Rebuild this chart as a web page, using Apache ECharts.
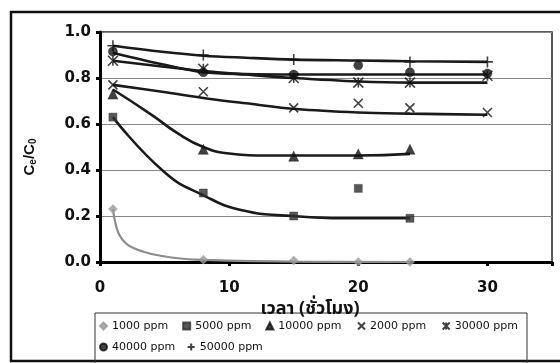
<!DOCTYPE html>
<html>
<head>
<meta charset="utf-8">
<script src="https://cdn.jsdelivr.net/npm/echarts@6/dist/echarts.min.js"></script>
<style>
  html, body { margin: 0; padding: 0; background: #fff; }
  #chart { width: 560px; height: 363px; }
</style>
</head>
<body>
<div id="chart"></div>
<script>
// Sampling times (hours)
const hours = [1, 8, 15, 20, 24, 30];
const xTicks = [0, 10, 20, 30];

// Measured Ce/C0 per initial concentration
const ppm1000  = [0.23, 0.01, 0.007, 0.0, 0.0, null];
const ppm5000  = [0.63, 0.30, 0.20, 0.32, 0.19, null];
const ppm10000 = [0.73, 0.49, 0.46, 0.47, 0.49, null];
const ppm2000  = [0.77, 0.74, 0.67, 0.69, 0.67, 0.65];
const ppm30000 = [0.875, 0.84, 0.80, 0.78, 0.78, 0.81];
const ppm40000 = [0.915, 0.825, 0.815, 0.855, 0.825, 0.82];
const ppm50000 = [0.94, 0.90, 0.88, null, 0.87, 0.87];

// Fitted curves (hour, Ce/C0)
const fit1000X  = [1, 1.4, 2.1, 3.3, 4.8, 7.4, 15, 24];
const fit1000Y  = [0.23, 0.13, 0.077, 0.046, 0.026, 0.01, 0.002, 0.0];
const fit5000X  = [1, 5, 8, 11, 15, 20, 24];
const fit5000Y  = [0.63, 0.39, 0.29, 0.225, 0.20, 0.19, 0.19];
const fit10000X = [1, 4, 6, 8, 10, 13, 20, 24];
const fit10000Y = [0.75, 0.64, 0.56, 0.50, 0.472, 0.463, 0.463, 0.47];
const fit2000X  = [1, 4.8, 8.4, 11.3, 15.2, 20, 24, 30];
const fit2000Y  = [0.77, 0.74, 0.71, 0.69, 0.665, 0.65, 0.645, 0.64];
const fit30000X = [1, 4.8, 8, 11.3, 15, 20, 24, 30];
const fit30000Y = [0.875, 0.85, 0.83, 0.815, 0.80, 0.785, 0.78, 0.78];
const fit40000X = [1, 4.8, 8, 11.3, 15, 20, 24, 30];
const fit40000Y = [0.91, 0.86, 0.825, 0.817, 0.815, 0.815, 0.815, 0.815];
const fit50000X = [1, 4.8, 8, 11.3, 15, 20, 24, 30];
const fit50000Y = [0.94, 0.914, 0.897, 0.888, 0.88, 0.876, 0.873, 0.87];

const names = ['1000 ppm', '5000 ppm', '10000 ppm', '2000 ppm', '30000 ppm', '40000 ppm', '50000 ppm'];

const CROSS = 'path://M0,0L10,10M10,0L0,10';
const STAR = 'path://M0,0L10,10M10,0L0,10M5,0L5,10';
const PLUS = 'path://M5,0L5,10M0,5L10,5';

function pairs(xs, ys) {
  const out = [];
  xs.forEach((x, i) => { if (ys[i] !== null) out.push([x, ys[i]]); });
  return out;
}

function curve(xs, ys, color, width, smooth) {
  return {
    type: 'line', data: pairs(xs, ys), smooth: smooth, showSymbol: false, silent: true,
    lineStyle: { color: color, width: width }, z: 2
  };
}

function marks(name, ys, symbol, size, style) {
  return {
    type: 'scatter', name: name, data: pairs(hours, ys), symbol: symbol, symbolSize: size,
    itemStyle: style, z: 3
  };
}

const solid = c => ({ color: c, borderColor: c, borderWidth: 0.5 });
const stroke = c => ({ color: 'none', borderColor: c, borderWidth: 1.6 });

const legendText = { fontFamily: 'DejaVu Sans', fontSize: 11, color: '#111' };

const option = {
  animation: false,
  backgroundColor: '#fff',
  grid: { left: 100, right: 8, top: 32, bottom: 101, show: true, borderColor: '#222', borderWidth: 1.5 },
  xAxis: {
    type: 'value', min: 0, max: 35, interval: 10,
    axisLine: { show: true, onZero: false, lineStyle: { color: '#000', width: 3 } },
    axisTick: { show: true, length: 4, lineStyle: { color: '#000', width: 3 } },
    axisLabel: {
      margin: 19, color: '#111', fontFamily: 'DejaVu Sans', fontWeight: 'bold', fontSize: 15,
      formatter: v => xTicks.includes(v) ? String(v) : ''
    },
    splitLine: { show: false },
    name: 'เวลา (ชั่วโมง)', nameLocation: 'middle', nameGap: 28,
    nameTextStyle: {
      color: '#111', fontWeight: 'bold', fontSize: 18,
      fontFamily: "'Noto Sans Thai', 'Noto Sans', 'DejaVu Sans', sans-serif",
      padding: [0, 32, 0, 0]
    }
  },
  yAxis: {
    type: 'value', min: 0, max: 1, interval: 0.2,
    axisLine: { show: true, lineStyle: { color: '#000', width: 3 } },
    axisTick: { show: true, length: 4, lineStyle: { color: '#000', width: 3 } },
    axisLabel: {
      margin: 9, color: '#111', fontFamily: 'DejaVu Sans', fontWeight: 'bold', fontSize: 15,
      formatter: v => v.toFixed(1)
    },
    splitLine: { show: true, lineStyle: { color: '#888', width: 1 } }
  },
  legend: [
    {
      data: [
        { name: names[0], icon: 'diamond' },
        { name: names[1], icon: 'rect' },
        { name: names[2], icon: 'triangle' },
        { name: names[3], icon: CROSS },
        { name: names[4], icon: STAR }
      ],
      left: 99, top: 320, padding: 0, itemWidth: 7, itemHeight: 7, itemGap: 14,
      textStyle: legendText, selectedMode: false
    },
    {
      data: [
        { name: names[5], icon: 'circle' },
        { name: names[6], icon: PLUS }
      ],
      left: 99, top: 341, padding: 0, itemWidth: 7, itemHeight: 7, itemGap: 10,
      textStyle: legendText, selectedMode: false
    }
  ],
  graphic: [
    {
      type: 'rect', shape: { x: 11, y: 12, width: 560, height: 349 },
      style: { fill: 'none', stroke: '#111', lineWidth: 2.5 }, silent: true
    },
    {
      type: 'rect', shape: { x: 95, y: 313, width: 432, height: 60 },
      style: { fill: 'none', stroke: '#333', lineWidth: 1 }, silent: true
    },
    {
      type: 'text', x: 30, y: 157, rotation: Math.PI / 2, silent: true,
      style: {
        text: '{c|C}{s|e}{c|/C}{s|0}', align: 'center', verticalAlign: 'middle',
        rich: {
          c: { fontFamily: 'Liberation Sans', fontWeight: 'bold', fontSize: 15, fill: '#111' },
          s: { fontFamily: 'Liberation Sans', fontWeight: 'bold', fontSize: 10, fill: '#111', padding: [6, 0, 0, 0] }
        }
      }
    }
  ],
  series: [
    curve(fit1000X, fit1000Y, '#8c8c8c', 2.2, 0.35),
    curve(fit5000X, fit5000Y, '#1a1a1a', 2.6, 0.5),
    curve(fit10000X, fit10000Y, '#1a1a1a', 2.6, 0.5),
    curve(fit2000X, fit2000Y, '#1a1a1a', 2.6, 0.35),
    curve(fit30000X, fit30000Y, '#1a1a1a', 2.6, 0.35),
    curve(fit40000X, fit40000Y, '#1a1a1a', 2.6, 0.35),
    curve(fit50000X, fit50000Y, '#1a1a1a', 2.6, 0.35),
    marks(names[0], ppm1000, 'diamond', 9, solid('#9a9a9a')),
    marks(names[1], ppm5000, 'rect', 8, solid('#2e2e2e')),
    marks(names[2], ppm10000, 'triangle', 10, solid('#111')),
    marks(names[3], ppm2000, CROSS, 9, stroke('#111')),
    marks(names[4], ppm30000, STAR, 10, stroke('#111')),
    marks(names[5], ppm40000, 'circle', 9, solid('#111')),
    marks(names[6], ppm50000, PLUS, 11, stroke('#111'))
  ]
};

echarts.init(document.getElementById('chart'), null, { renderer: 'canvas' }).setOption(option);
</script>
</body>
</html>
